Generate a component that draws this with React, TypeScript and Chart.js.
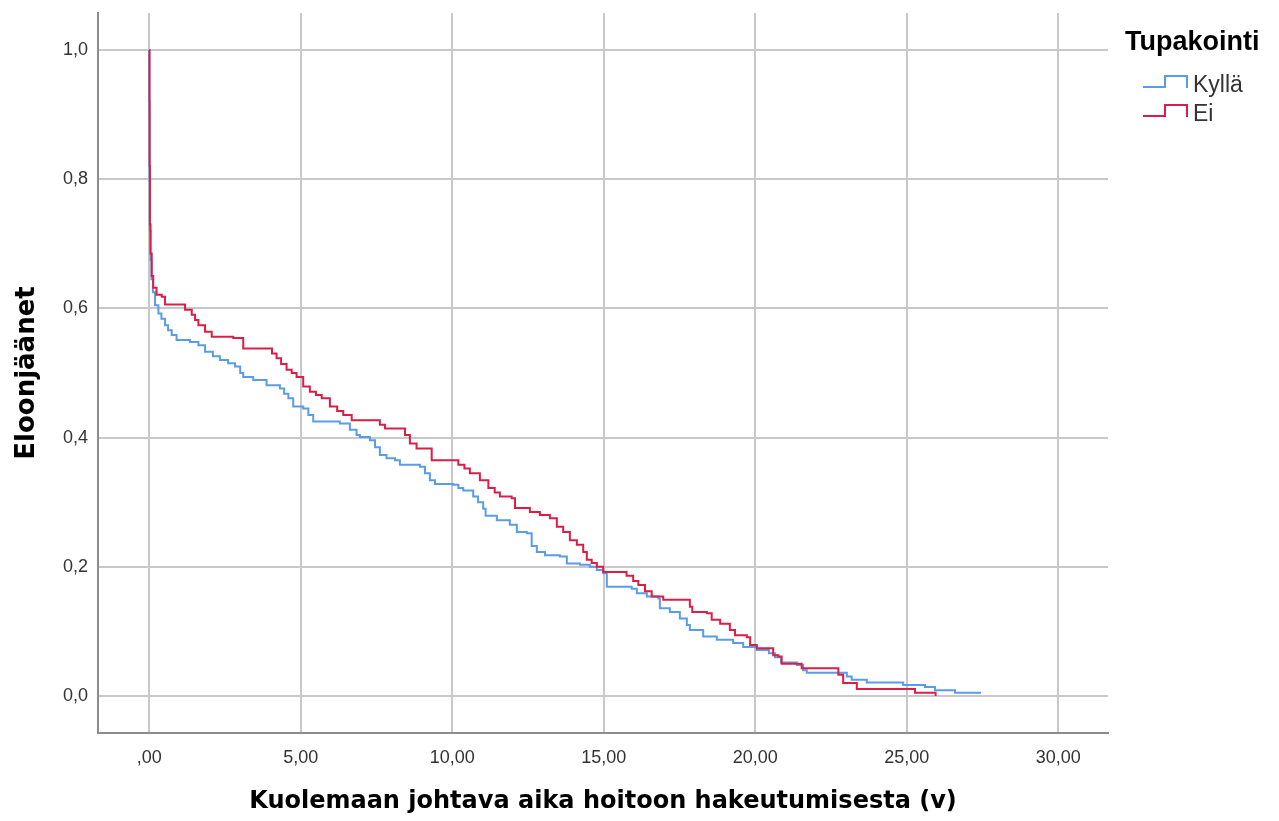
import React, { useEffect, useRef } from "react";
import { Chart, registerables } from "chart.js";

Chart.register(...registerables);

// ---- data ----
const seriesNames = ["Kyllä", "Ei"];
const seriesColors = ["#5b9ce8", "#dc1e46"];
const legendTitle = "Tupakointi";
const xTitle = "Kuolemaan johtava aika hoitoon hakeutumisesta (v)";
const yTitle = "Eloonjäänet";

const xTickValues = [0, 5, 10, 15, 20, 25, 30];
const xTickLabels = [",00", "5,00", "10,00", "15,00", "20,00", "25,00", "30,00"];
const yTickValues = [0, 0.2, 0.4, 0.6, 0.8, 1.0];
const yTickLabels = ["0,0", "0,2", "0,4", "0,6", "0,8", "1,0"];

const kyllaTime = [
  0, 0.005, 0.01, 0.02, 0.04, 0.07, 0.12, 0.19, 0.3, 0.4, 0.52, 0.62, 0.74, 0.9,
  1.34, 1.62, 1.84, 2.1, 2.33, 2.6, 2.83, 3.0, 3.1, 3.43, 3.87, 4.31, 4.45, 4.59,
  4.75, 5.08, 5.25, 5.41, 6.29, 6.62, 6.84, 6.95, 7.28, 7.45, 7.61, 7.83, 8.11,
  8.27, 8.93, 9.1, 9.26, 9.43, 10.03, 10.2, 10.36, 10.69, 10.85, 11.02, 11.1,
  11.47, 11.9, 12.13, 12.46, 12.62, 12.79, 13.06, 13.55, 13.78, 14.21, 14.54,
  14.77, 14.98, 15.1, 15.92, 16.09, 16.42, 16.8, 16.85, 17.18, 17.51, 17.74,
  17.84, 18.28, 18.73, 19.27, 19.6, 20.05, 20.45, 20.65, 20.85, 21.37, 21.58,
  21.7, 23.02, 23.18, 23.68, 24.88, 25.6, 25.93, 26.59, 27.45,
];
const kyllaSurv = [
  1.0, 0.9, 0.8, 0.72, 0.675, 0.645, 0.625, 0.605, 0.592, 0.584, 0.574, 0.566,
  0.559, 0.551, 0.548, 0.543, 0.533, 0.526, 0.52, 0.515, 0.51, 0.5, 0.494, 0.489,
  0.481, 0.476, 0.468, 0.461, 0.448, 0.445, 0.435, 0.425, 0.422, 0.412, 0.404,
  0.401, 0.396, 0.385, 0.373, 0.368, 0.365, 0.358, 0.355, 0.345, 0.334, 0.328,
  0.327, 0.322, 0.318, 0.309, 0.3, 0.29, 0.279, 0.272, 0.265, 0.254, 0.252,
  0.232, 0.223, 0.218, 0.216, 0.205, 0.203, 0.2, 0.195, 0.19, 0.169, 0.166,
  0.159, 0.154, 0.151, 0.136, 0.13, 0.12, 0.11, 0.102, 0.092, 0.087, 0.082,
  0.076, 0.071, 0.066, 0.06, 0.052, 0.048, 0.04, 0.036, 0.03, 0.025, 0.021,
  0.017, 0.014, 0.009, 0.005, 0.005,
];

const eiTime = [
  0, 0.005, 0.01, 0.02, 0.04, 0.08, 0.13, 0.24, 0.41, 0.52, 1.18, 1.4, 1.51,
  1.62, 1.84, 2.06, 2.77, 3.1, 4.05, 4.2, 4.35, 4.53, 4.7, 4.86, 5.08, 5.3, 5.5,
  5.69, 5.96, 6.2, 6.4, 6.68, 7.61, 7.78, 8.44, 8.6, 8.82, 9.32, 10.2, 10.4,
  10.58, 10.91, 11.19, 11.4, 11.57, 11.96, 12.07, 12.56, 12.89, 13.22, 13.45,
  13.66, 13.88, 14.11, 14.32, 14.44, 14.6, 14.77, 14.98, 15.75, 15.97, 16.14,
  16.36, 16.58, 16.96, 17.84, 17.92, 18.4, 18.56, 18.84, 19.16, 19.33, 19.72,
  19.83, 20.05, 20.59, 20.76, 20.87, 21.53, 22.74, 22.9, 23.35, 25.27, 25.95,
];
const eiSurv = [
  1.0, 0.92, 0.82, 0.73, 0.685, 0.65, 0.632, 0.621, 0.618, 0.606, 0.598, 0.59,
  0.582, 0.574, 0.564, 0.556, 0.554, 0.538, 0.53, 0.523, 0.514, 0.505, 0.5,
  0.494, 0.479, 0.471, 0.466, 0.461, 0.448, 0.441, 0.435, 0.427, 0.42, 0.414,
  0.404, 0.391, 0.383, 0.365, 0.358, 0.352, 0.345, 0.334, 0.322, 0.315, 0.309,
  0.306, 0.291, 0.285, 0.28, 0.275, 0.262, 0.254, 0.241, 0.234, 0.223, 0.211,
  0.206, 0.2, 0.192, 0.186, 0.178, 0.172, 0.162, 0.154, 0.149, 0.138, 0.13,
  0.128, 0.118, 0.112, 0.102, 0.094, 0.091, 0.079, 0.074, 0.063, 0.061, 0.05,
  0.043, 0.033, 0.02, 0.011, 0.005, 0.0,
];

const seriesTimes = [kyllaTime, eiTime];
const seriesSurv = [kyllaSurv, eiSurv];

// ---- legend plugin ----
const legendPlugin = {
  id: "kmLegend",
  afterDraw(chart: any) {
    const ctx = chart.ctx;
    const area = chart.chartArea;
    const x0 = area.right + 17;
    ctx.save();
    ctx.fillStyle = "#000";
    ctx.font = 'bold 27px "Liberation Sans", Arial, sans-serif';
    ctx.textAlign = "left";
    ctx.textBaseline = "alphabetic";
    ctx.fillText(legendTitle, x0, area.top + 37);
    seriesNames.forEach((name, i) => {
      const low = area.top + 74 + i * 29;
      const high = low - 11;
      const ix = x0 + 18;
      ctx.strokeStyle = seriesColors[i];
      ctx.lineWidth = 2;
      ctx.beginPath();
      ctx.moveTo(ix, low);
      ctx.lineTo(ix + 22, low);
      ctx.lineTo(ix + 22, high);
      ctx.lineTo(ix + 44, high);
      ctx.lineTo(ix + 44, low + 1);
      ctx.stroke();
      ctx.fillStyle = "#333";
      ctx.font = '23px "Liberation Sans", Arial, sans-serif';
      ctx.fillText(name, ix + 50, low + 5);
    });
    ctx.restore();
  },
};

export default function App() {
  const ref = useRef<HTMLCanvasElement>(null);

  useEffect(() => {
    if (!ref.current) return;
    const datasets = seriesNames.map((name, i) => ({
      label: name,
      data: seriesTimes[i].map((t, j) => ({ x: t, y: seriesSurv[i][j] })),
      borderColor: seriesColors[i],
      backgroundColor: seriesColors[i],
      borderWidth: 2,
      pointRadius: 0,
      stepped: "before" as const,
      fill: false,
      order: i === 0 ? 1 : 0,
    }));

    const tickFont = { family: '"Liberation Sans", Arial, sans-serif', size: 18 };

    const chart = new Chart(ref.current, {
      type: "line",
      data: { datasets },
      plugins: [legendPlugin],
      options: {
        animation: false,
        responsive: false,
        devicePixelRatio: 1,
        layout: { padding: { top: 13, right: 171, left: 0, bottom: 0 } },
        plugins: {
          legend: { display: false },
          tooltip: { enabled: false },
        },
        scales: {
          x: {
            type: "linear",
            min: -1.693,
            max: 31.64,
            afterBuildTicks: (scale: any) => {
              scale.ticks = xTickValues.map((v) => ({ value: v }));
            },
            afterFit: (scale: any) => {
              scale.height = 88;
              scale.paddingLeft = 0;
              scale.paddingRight = 0;
            },
            ticks: {
              autoSkip: false,
              maxRotation: 0,
              padding: 14,
              color: "#333",
              font: tickFont,
              callback: (v: any) => {
                const idx = xTickValues.indexOf(Number(v));
                return idx >= 0 ? xTickLabels[idx] : "";
              },
            },
            grid: { color: "#c8c8c8", lineWidth: 2, drawTicks: false },
            border: { display: true, color: "#8c8c8c", width: 2 },
            title: {
              display: true,
              text: xTitle,
              color: "#000",
              font: { family: '"DejaVu Sans", sans-serif', size: 24, weight: "bold" },
              padding: { top: 0, bottom: 5 },
            },
          },
          y: {
            type: "linear",
            min: -0.0573,
            max: 1.0573,
            afterBuildTicks: (scale: any) => {
              scale.ticks = yTickValues.map((v) => ({ value: v }));
            },
            afterFit: (scale: any) => {
              scale.width = 98;
              scale.paddingTop = 0;
              scale.paddingBottom = 0;
            },
            ticks: {
              autoSkip: false,
              padding: 10,
              color: "#333",
              font: tickFont,
              callback: (v: any) => {
                const idx = yTickValues.findIndex((t) => Math.abs(t - Number(v)) < 1e-6);
                return idx >= 0 ? yTickLabels[idx] : "";
              },
            },
            grid: { color: "#c8c8c8", lineWidth: 2, drawTicks: false },
            border: { display: true, color: "#8c8c8c", width: 2 },
            title: {
              display: true,
              text: yTitle,
              color: "#000",
              font: { family: '"DejaVu Sans", sans-serif', size: 26, weight: "bold" },
              padding: { top: 12, bottom: 0 },
            },
          },
        },
      },
    });
    return () => chart.destroy();
  }, []);

  return (
    <div style={{ position: "absolute", left: 0, top: 0, width: 1279, height: 821, background: "#fff" }}>
      <canvas ref={ref} width={1279} height={821} style={{ display: "block" }} />
    </div>
  );
}
